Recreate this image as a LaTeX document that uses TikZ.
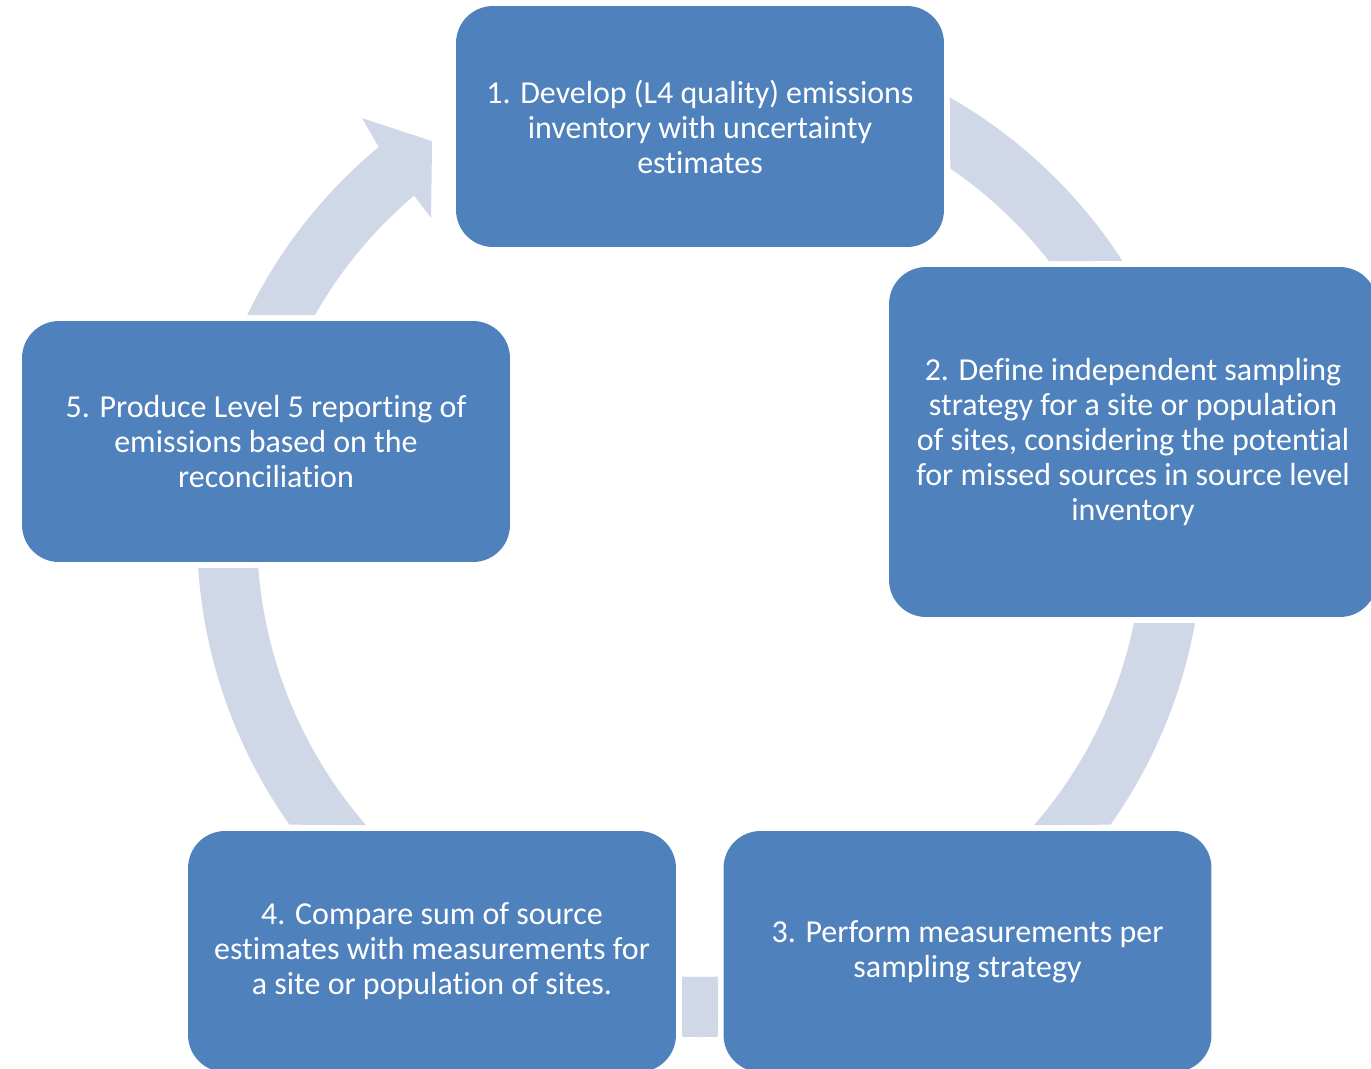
\documentclass[tikz,border=0pt]{standalone}
\usepackage{fontspec}
\setmainfont{Carlito}[Ligatures=CommonOff]
\usepackage{tikz}
\usetikzlibrary{calc}

\definecolor{boxblue}{HTML}{4F81BD}
\definecolor{arcgray}{HTML}{D0D8E8}

\begin{document}
\begin{tikzpicture}[x=0.02cm, y=-0.02cm,
    stepbox/.style={fill=boxblue, rounded corners=0.74cm, minimum width=9.76cm, minimum height=4.82cm,
      inner sep=0pt, align=center, text=white, font=\fontsize{18.2}{19.9}\selectfont},
    arcband/.style={fill=arcgray}]
  \clip (0,0) rectangle (1371,1068); % Fixes the page

  \coordinate (c) at (700,534); % centre of the cycle

  % arrow bands
  \fill[arcband] ($(c)+(205.8:503)$) arc[start angle=205.8, end angle=230.3, radius=503]
    -- ($(c)+(230.9:536)$) -- ($(c)+(235.7:475.5)$) -- ($(c)+(229.6:415)$)
    -- ($(c)+(229.8:443)$) arc[start angle=229.8, end angle=209.6, radius=443] -- cycle; % 5 to 1
  \fill[arcband] ($(c)+(-60.2:503)$) arc[start angle=-60.2, end angle=-32.9, radius=503]
    -- ($(c)+(-38.0:443)$) arc[start angle=-38.0, end angle=-55.6, radius=443] -- cycle; % 1 to 2
  \fill[arcband] ($(c)+(10.2:503)$) arc[start angle=10.2, end angle=35.3, radius=503]
    -- ($(c)+(41.1:443)$) arc[start angle=41.1, end angle=11.6, radius=443] -- cycle; % 2 to 3
  \fill[arcband] ($(c)+(87.95:503)$) arc[start angle=87.95, end angle=92.05, radius=503]
    -- ($(c)+(92.33:443)$) arc[start angle=92.33, end angle=87.67, radius=443] -- cycle; % 3 to 4
  \fill[arcband] ($(c)+(144.7:503)$) arc[start angle=144.7, end angle=176.1, radius=503]
    -- ($(c)+(175.6:443)$) arc[start angle=175.6, end angle=138.9, radius=443] -- cycle; % 4 to 5

  % steps
  \node[stepbox] (s1) at (700,126.5) {1. Develop (L4 quality) emissions\\inventory with uncertainty\\estimates};
  \node[stepbox, minimum height=7cm] (s2) at (1133,442) {2. Define independent sampling\\strategy for a site or population\\of sites, considering the potential\\for missed sources in source level\\inventory};
  \node[stepbox] (s3) at (967.5,951.5) {3. Perform measurements per\\sampling strategy};
  \node[stepbox] (s4) at (432,951.5) {4. Compare sum of source\\estimates with measurements for\\a site or population of sites.};
  \node[stepbox] (s5) at (266,441.5) {5. Produce Level 5 reporting of\\emissions based on the\\reconciliation};
\end{tikzpicture}
\end{document}
